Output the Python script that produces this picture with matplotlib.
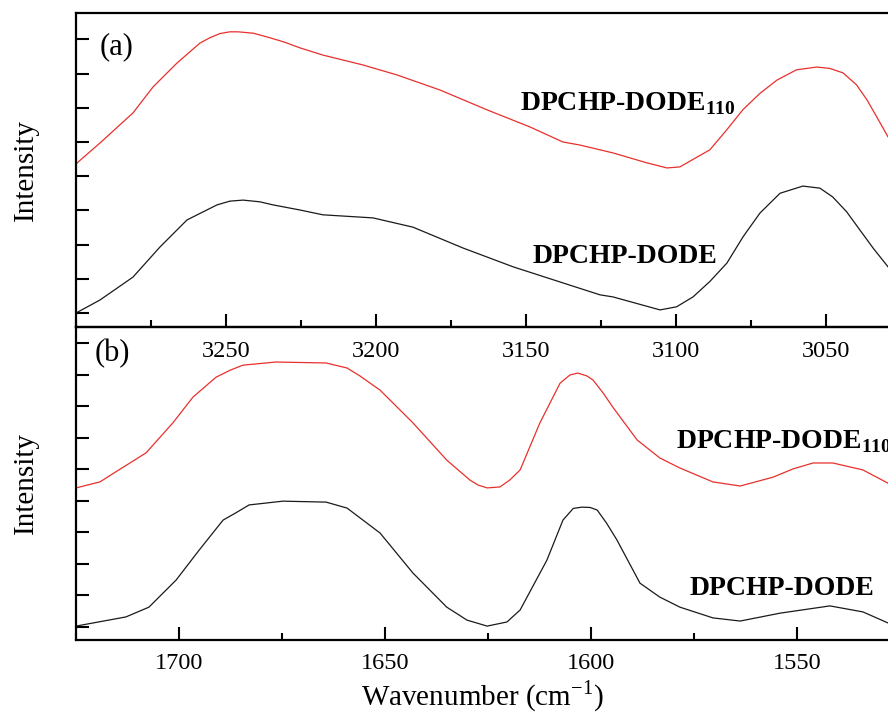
import numpy as np
import matplotlib
matplotlib.use('Agg')
import matplotlib.pyplot as plt
from matplotlib.ticker import MultipleLocator, FixedLocator

plt.rcParams['font.family'] = ['Liberation Serif', 'DejaVu Serif']
plt.rcParams['mathtext.fontset'] = 'custom'
plt.rcParams['mathtext.rm'] = 'Liberation Serif'
plt.rcParams['mathtext.bf'] = 'Liberation Serif:bold'

# panel (a): C-H stretching region
wn_a_red = [3300, 3292, 3281, 3274.3, 3266.3, 3258.7, 3255.3, 3252, 3248.7, 3246, 3240.9,
            3236.3, 3230.9, 3225.3, 3217.7, 3204.3, 3193, 3178.7, 3163, 3148.7, 3137.7,
            3132, 3121, 3109.7, 3103, 3098.7, 3088.7, 3083.1, 3077.7, 3072, 3066.3,
            3059.8, 3053, 3048.7, 3044.3, 3039.8, 3036.3, 3033.1, 3029.3]
int_a_red = [4.36, 4.97, 5.85, 6.61, 7.31, 7.89, 8.05, 8.17, 8.22, 8.22, 8.18,
             8.07, 7.93, 7.75, 7.54, 7.25, 6.96, 6.52, 5.94, 5.44, 5.0,
             4.91, 4.68, 4.39, 4.24, 4.27, 4.77, 5.35, 5.94, 6.42, 6.81,
             7.11, 7.19, 7.15, 7.02, 6.67, 6.23, 5.74, 5.15]
wn_a_blk = [3300, 3292, 3281, 3272, 3263, 3253, 3248.7, 3244.3, 3238.7, 3234.3, 3225.3,
            3217.7, 3201, 3187.7, 3171, 3154.3, 3137.7, 3125.3, 3121, 3105.3, 3099.8,
            3094.3, 3088.7, 3083, 3077.6, 3072, 3065.3, 3057.7, 3052, 3047.7, 3043.1,
            3038.7, 3034.2, 3029.3]
int_a_blk = [0.0, 0.38, 1.05, 1.93, 2.72, 3.16, 3.27, 3.30, 3.25, 3.16, 3.01,
             2.87, 2.78, 2.51, 1.90, 1.35, 0.88, 0.53, 0.47, 0.09, 0.18,
             0.47, 0.92, 1.46, 2.23, 2.92, 3.50, 3.71, 3.65, 3.39, 2.96,
             2.43, 1.89, 1.35]

# panel (b): C=O / C=C region
wn_b_red = [1725, 1719.2, 1714.6, 1708.0, 1701.5, 1696.6, 1691.0, 1687.6, 1684.5, 1676.5,
            1664.3, 1659.2, 1656.1, 1651.2, 1643.2, 1635.0, 1629.4, 1627.4, 1625.2, 1622.1,
            1619.7, 1617.2, 1612.4, 1607.5, 1605.1, 1603.2, 1601.0, 1599.5, 1597.0, 1594.7,
            1588.8, 1583.3, 1578.4, 1570.4, 1563.8, 1555.8, 1551.0, 1546.1, 1541.3, 1534.0,
            1527.9]
int_b_red = [4.41, 4.60, 4.98, 5.52, 6.47, 7.29, 7.92, 8.14, 8.30, 8.40,
             8.37, 8.21, 7.96, 7.51, 6.47, 5.29, 4.66, 4.50, 4.41, 4.44,
             4.66, 4.98, 6.47, 7.73, 7.99, 8.05, 7.96, 7.83, 7.41, 6.97,
             5.93, 5.36, 5.04, 4.60, 4.47, 4.75, 5.01, 5.20, 5.20, 4.98,
             4.56]
wn_b_blk = [1725, 1712.9, 1707.3, 1700.7, 1695.1, 1689.3, 1686.2, 1683.0, 1674.8, 1664.3,
            1659.2, 1651.2, 1643.2, 1635.0, 1630.1, 1625.2, 1620.4, 1617.2, 1610.7, 1606.8,
            1604.3, 1602.2, 1600.2, 1598.5, 1596.2, 1593.7, 1588.1, 1583.3, 1578.4, 1570.4,
            1563.8, 1554.1, 1542.0, 1534.0, 1527.9]
int_b_blk = [0.03, 0.32, 0.63, 1.49, 2.44, 3.39, 3.62, 3.87, 3.99, 3.96,
             3.77, 2.98, 1.71, 0.63, 0.22, 0.03, 0.16, 0.54, 2.12, 3.39,
             3.76, 3.80, 3.79, 3.71, 3.29, 2.76, 1.39, 0.95, 0.63, 0.29,
             0.19, 0.44, 0.67, 0.48, 0.13]

red = '#e8302c'
blk = '#1a1a1a'

fig = plt.figure(figsize=(8.88, 7.27), dpi=100)
ax_b = fig.add_axes([0.0856, 0.1197, 1 - 0.0856, 0.5502 - 0.1197])
ax_a = fig.add_axes([0.0856, 0.5502, 1 - 0.0856, 0.9821 - 0.5502])
ax_b.patch.set_visible(False)
ax_a.patch.set_visible(False)

ax_a.plot(wn_a_red, int_a_red, color=red, lw=0.9)
ax_a.plot(wn_a_blk, int_a_blk, color=blk, lw=0.9)
ax_b.plot(wn_b_red, int_b_red, color=red, lw=0.9)
ax_b.plot(wn_b_blk, int_b_blk, color=blk, lw=0.9)

ax_a.set_xlim(3300, 3029.3)
ax_a.set_ylim(-0.41, 8.77)
ax_b.set_xlim(1725, 1527.9)
ax_b.set_ylim(-0.41, 9.51)

ax_a.xaxis.set_major_locator(FixedLocator([3250, 3200, 3150, 3100, 3050]))
ax_b.xaxis.set_major_locator(FixedLocator([1700, 1650, 1600, 1550]))

for ax, pad in [(ax_a, 10), (ax_b, 9.5)]:
    ax.spines['right'].set_visible(False)
    for s in ['left', 'top', 'bottom']:
        ax.spines[s].set_linewidth(1.6)
    ax.xaxis.set_minor_locator(MultipleLocator(25))
    ax.yaxis.set_major_locator(MultipleLocator(1))
    ax.tick_params(axis='x', which='major', direction='in', length=9.5, width=1.5,
                   labelsize=17.5, pad=pad, top=False)
    ax.tick_params(axis='x', which='minor', direction='in', length=5, width=1.5, top=False)
    ax.tick_params(axis='y', which='major', direction='in', length=9.5, width=1.5,
                   labelleft=False, right=False)
    ax.set_ylabel('Intensity', fontsize=21, labelpad=27)

ax_b.set_xlabel(r'Wavenumber (cm$^{\mathrm{-1}}$)', fontsize=21, labelpad=3)

ax_a.text(3292, 7.78, '(a)', fontsize=22, ha='left', va='center')
ax_b.text(1720.4, 8.68, '(b)', fontsize=22, ha='left', va='center')

ax_a.text(3152, 5.94, r'DPCHP-DODE$_{\mathbf{110}}$', fontsize=20, fontweight='bold',
          ha='left', va='baseline')
ax_a.text(3147.7, 1.46, 'DPCHP-DODE', fontsize=20, fontweight='bold', ha='left', va='baseline')
ax_b.text(1579.4, 5.67, r'DPCHP-DODE$_{\mathbf{110}}$', fontsize=20, fontweight='bold',
          ha='left', va='baseline', clip_on=False)
ax_b.text(1576, 1.01, 'DPCHP-DODE', fontsize=20, fontweight='bold', ha='left', va='baseline')

fig.savefig('out.png', dpi=100)
